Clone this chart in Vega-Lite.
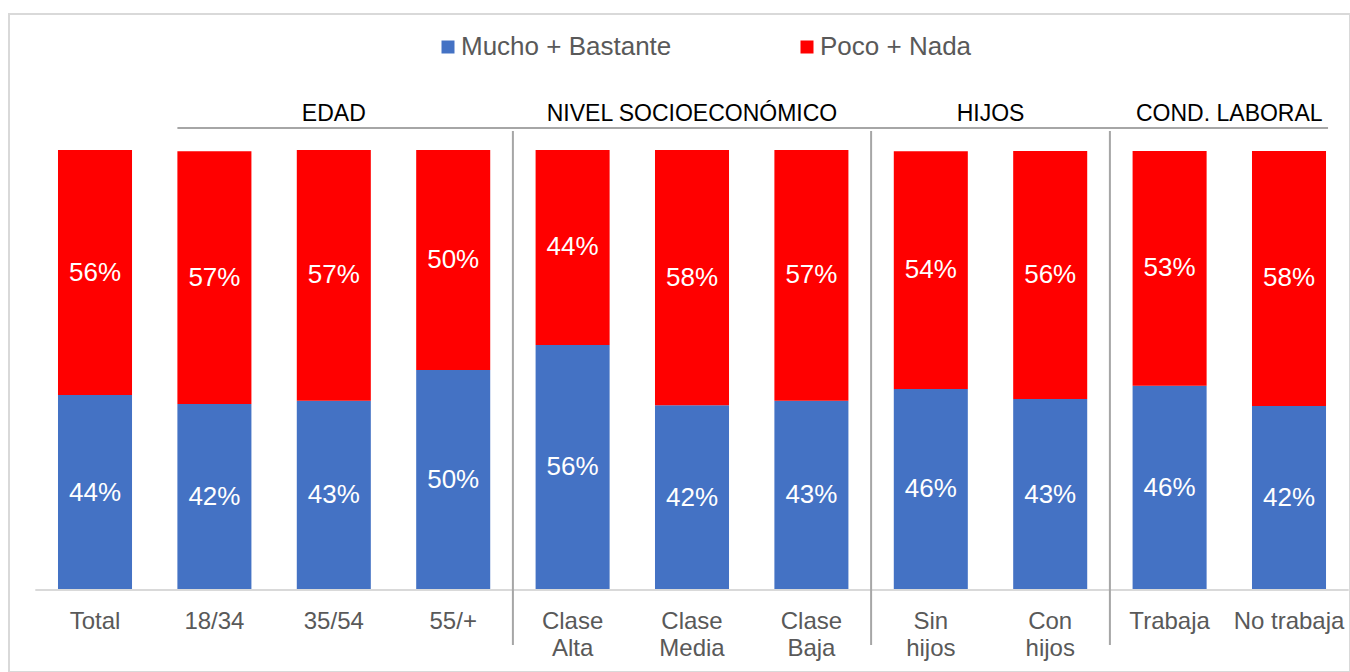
{
  "$schema": "https://vega.github.io/schema/vega-lite/v6.json",
  "width": 1341,
  "height": 658,
  "autosize": {"type": "none"},
  "padding": {"left": 9, "top": 14, "right": 0, "bottom": 0},
  "background": "white",
  "config": {
    "view": {"stroke": "#d9d9d9", "strokeWidth": 2},
    "font": "Liberation Sans"
  },
  "datasets": {
    "bars": [
      {"cat": "Total", "serie": "Mucho + Bastante", "value": 0.443},
      {"cat": "Total", "serie": "Poco + Nada", "value": 0.557},
      {"cat": "18/34", "serie": "Mucho + Bastante", "value": 0.423},
      {"cat": "18/34", "serie": "Poco + Nada", "value": 0.574},
      {"cat": "35/54", "serie": "Mucho + Bastante", "value": 0.43},
      {"cat": "35/54", "serie": "Poco + Nada", "value": 0.57},
      {"cat": "55/+", "serie": "Mucho + Bastante", "value": 0.50},
      {"cat": "55/+", "serie": "Poco + Nada", "value": 0.50},
      {"cat": "Clase Alta", "serie": "Mucho + Bastante", "value": 0.557},
      {"cat": "Clase Alta", "serie": "Poco + Nada", "value": 0.443},
      {"cat": "Clase Media", "serie": "Mucho + Bastante", "value": 0.42},
      {"cat": "Clase Media", "serie": "Poco + Nada", "value": 0.58},
      {"cat": "Clase Baja", "serie": "Mucho + Bastante", "value": 0.43},
      {"cat": "Clase Baja", "serie": "Poco + Nada", "value": 0.57},
      {"cat": "Sin hijos", "serie": "Mucho + Bastante", "value": 0.457},
      {"cat": "Sin hijos", "serie": "Poco + Nada", "value": 0.54},
      {"cat": "Con hijos", "serie": "Mucho + Bastante", "value": 0.434},
      {"cat": "Con hijos", "serie": "Poco + Nada", "value": 0.564},
      {"cat": "Trabaja", "serie": "Mucho + Bastante", "value": 0.464},
      {"cat": "Trabaja", "serie": "Poco + Nada", "value": 0.534},
      {"cat": "No trabaja", "serie": "Mucho + Bastante", "value": 0.418},
      {"cat": "No trabaja", "serie": "Poco + Nada", "value": 0.58}
    ],
    "seps": [{"cat": "Clase Alta"}, {"cat": "Sin hijos"}, {"cat": "Trabaja"}],
    "heads1": [
      {"cat": "35/54", "label": "EDAD"},
      {"cat": "Clase Media", "label": "NIVEL SOCIOECONÓMICO"}
    ],
    "heads2": [
      {"cat": "Sin hijos", "label": "HIJOS"},
      {"cat": "Trabaja", "label": "COND. LABORAL"}
    ],
    "headspan": [{"from": "18/34", "to": "No trabaja"}],
    "basespan": [{"from": "Total", "to": "No trabaja"}]
  },
  "layer": [
    {
      "data": {"name": "bars"},
      "mark": {"type": "bar", "width": {"band": 0.62}},
      "encoding": {
        "x": {
          "field": "cat",
          "type": "nominal",
          "sort": null,
          "title": null,
          "scale": {
            "domain": ["Total", "18/34", "35/54", "55/+", "Clase Alta", "Clase Media", "Clase Baja", "Sin hijos", "Con hijos", "Trabaja", "No trabaja"],
            "paddingInner": 0,
            "paddingOuter": 0.1156,
            "align": 0.953
          },
          "axis": {
            "orient": "bottom",
            "offset": -82,
            "domain": false,
            "ticks": false,
            "tickSize": 0,
            "labelPadding": 19,
            "labelFontSize": 24,
            "labelFont": "Liberation Sans",
            "labelColor": "#595959",
            "labelAngle": 0,
            "labelBaseline": "top",
            "labelLineHeight": 27,
            "labelLimit": 0,
            "labelOverlap": false,
            "labelBound": false,
            "labelExpr": "datum.label == 'No trabaja' ? datum.label : split(datum.label, ' ')"
          }
        },
        "y": {
          "field": "value",
          "type": "quantitative",
          "stack": "zero",
          "scale": {"domain": [-0.18636, 1.30909], "nice": false, "zero": false},
          "axis": null
        },
        "order": {"field": "serie", "sort": "ascending"},
        "color": {
          "field": "serie",
          "type": "nominal",
          "scale": {"domain": ["Mucho + Bastante", "Poco + Nada"], "range": ["#4472c4", "#ff0000"]},
          "legend": {
            "orient": "none",
            "legendX": 426,
            "legendY": 20,
            "direction": "horizontal",
            "columns": 2,
            "columnPadding": 122,
            "title": null,
            "symbolType": "square",
            "symbolSize": 169,
            "symbolStrokeWidth": 0,
            "symbolOpacity": 1,
            "labelFontSize": 26,
            "labelFont": "Liberation Sans",
            "labelColor": "#595959",
            "labelOffset": 0,
            "labelLimit": 0
          }
        }
      }
    },
    {
      "data": {"name": "bars"},
      "mark": {"type": "text", "color": "white", "fontSize": 26, "baseline": "middle", "align": "center"},
      "encoding": {
        "x": {"field": "cat", "type": "nominal", "sort": null, "title": null},
        "y": {"field": "value", "type": "quantitative", "stack": "zero", "bandPosition": 0.5},
        "detail": {"field": "serie"},
        "order": {"field": "serie", "sort": "ascending"},
        "text": {"field": "value", "type": "quantitative", "format": ".0%"}
      }
    },
    {
      "data": {"name": "basespan"},
      "mark": {"type": "rule", "color": "#d9d9d9", "strokeWidth": 2},
      "encoding": {
        "x": {"field": "from", "type": "nominal", "bandPosition": 0, "title": null},
        "x2": {"field": "to", "bandPosition": 1},
        "y": {"datum": 0, "type": "quantitative"}
      }
    },
    {
      "data": {"name": "seps"},
      "mark": {"type": "rule", "color": "#a6a6a6", "strokeWidth": 2},
      "encoding": {
        "x": {"field": "cat", "type": "nominal", "bandPosition": 0, "title": null},
        "y": {"datum": 1.043, "type": "quantitative"},
        "y2": {"datum": -0.125}
      }
    },
    {
      "data": {"name": "headspan"},
      "mark": {"type": "rule", "color": "#a6a6a6", "strokeWidth": 2},
      "encoding": {
        "x": {"field": "from", "type": "nominal", "bandPosition": 0.19, "title": null},
        "x2": {"field": "to", "bandPosition": 0.827},
        "y": {"datum": 1.05, "type": "quantitative"}
      }
    },
    {
      "data": {"name": "heads1"},
      "mark": {"type": "text", "color": "black", "fontSize": 23, "baseline": "alphabetic", "align": "center"},
      "encoding": {
        "x": {"field": "cat", "type": "nominal", "bandPosition": 0.5, "title": null},
        "y": {"datum": 1.066, "type": "quantitative"},
        "text": {"field": "label"}
      }
    },
    {
      "data": {"name": "heads2"},
      "mark": {"type": "text", "color": "black", "fontSize": 23, "baseline": "alphabetic", "align": "center"},
      "encoding": {
        "x": {"field": "cat", "type": "nominal", "bandPosition": 1, "title": null},
        "y": {"datum": 1.066, "type": "quantitative"},
        "text": {"field": "label"}
      }
    }
  ]
}
